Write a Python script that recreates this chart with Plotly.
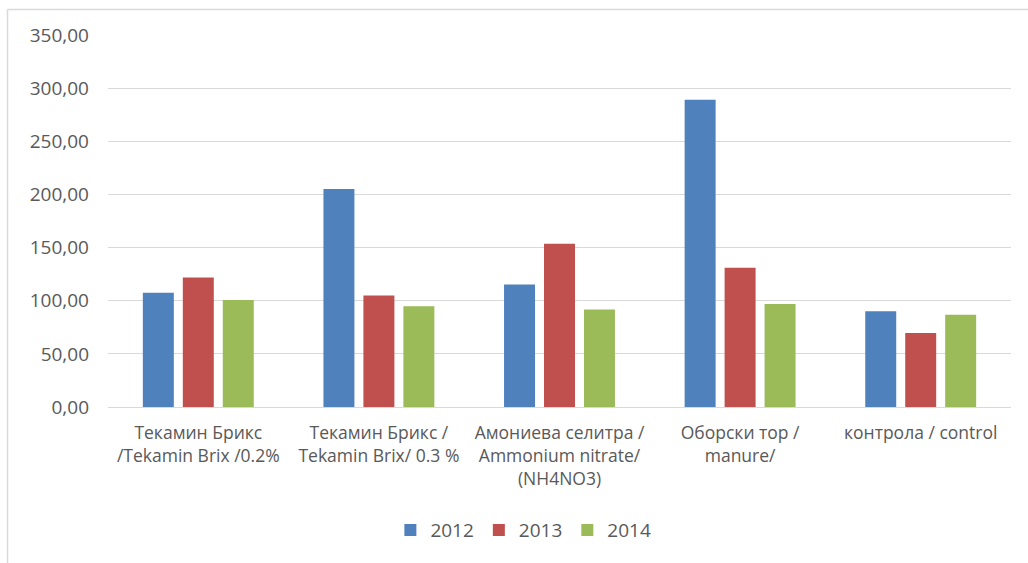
import plotly.graph_objects as go

categories = [
    "Текамин Брикс<br>/Tekamin Brix /0.2%",
    "Текамин Брикс /<br>Tekamin Brix/ 0.3 %",
    "Амониева селитра /<br>Ammonium nitrate/<br>(NH4NO3)",
    "Оборски тор /<br>manure/",
    "контрола / control",
]
series_names = ["2012", "2013", "2014"]
values_2012 = [107.4, 205.2, 115.3, 289.0, 90.2]
values_2013 = [121.9, 105.0, 153.6, 131.0, 69.7]
values_2014 = [100.6, 94.9, 91.8, 96.8, 86.7]
colors = ["#4F81BD", "#C0504D", "#9BBB59"]
y_ticks = [0, 50, 100, 150, 200, 250, 300, 350]
y_tick_labels = ["0,00", "50,00", "100,00", "150,00", "200,00", "250,00", "300,00", "350,00"]

fig = go.Figure()
for name, vals, col in zip(series_names, [values_2012, values_2013, values_2014], colors):
    fig.add_trace(go.Bar(x=categories, y=vals, name=name, marker=dict(color=col, line=dict(width=0))))

L, R, T, B = 108, 17, 35, 156
W, H = 1028, 563
pw = W - L - R
ph = H - T - B

fig.update_layout(
    width=W, height=H,
    margin=dict(l=L, r=R, t=T, b=B),
    paper_bgcolor="white", plot_bgcolor="white",
    barmode="group", bargap=0.336, bargroupgap=0.225,
    font=dict(family="Open Sans", color="#595959", size=17),
    showlegend=True,
    legend=dict(orientation="h", x=0.46, xanchor="center", y=-0.331, yanchor="middle",
                font=dict(size=19, color="#595959"), itemwidth=30, traceorder="normal"),
    xaxis=dict(showgrid=False, showline=True, linecolor="#D9D9D9", linewidth=1,
               ticks="", ticklabelstandoff=10, tickfont=dict(size=17.5, color="#595959")),
    yaxis=dict(range=[0, 350], tickvals=y_ticks, ticktext=y_tick_labels,
               showgrid=True, gridcolor="#D9D9D9", gridwidth=1, zeroline=False,
               showline=False, ticks="", ticklabelstandoff=18,
               tickfont=dict(size=19, color="#595959")),
    shapes=[
        dict(type="line", xref="paper", yref="paper",
             x0=(7.5 - L) / pw, x1=(W - L) / pw, y0=(H - B - 9.5) / ph, y1=(H - B - 9.5) / ph,
             line=dict(color="#D9D9D9", width=1.5)),
        dict(type="line", xref="paper", yref="paper",
             x0=(7.5 - L) / pw, x1=(7.5 - L) / pw, y0=(H - B - 9.5) / ph, y1=-B / ph,
             line=dict(color="#D9D9D9", width=1.5)),
    ],
)

fig.write_html("out.html")
